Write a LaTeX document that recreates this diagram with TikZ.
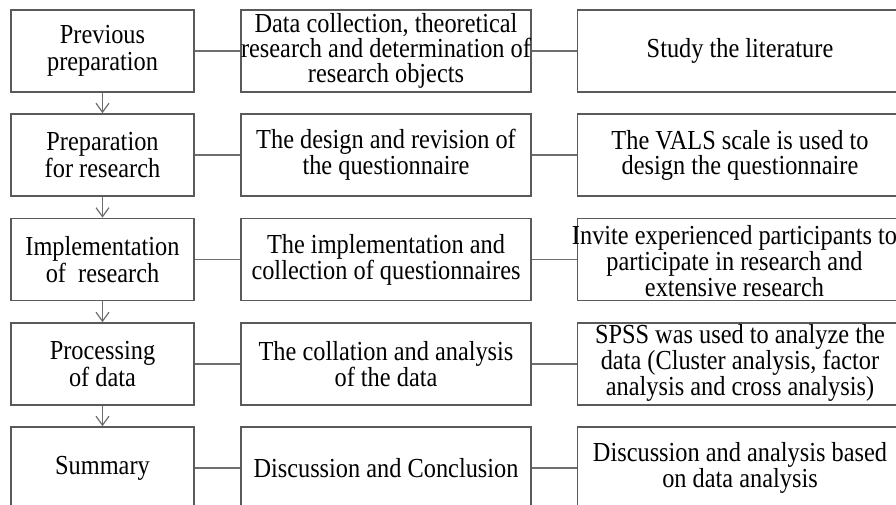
\documentclass[tikz,border=0pt]{standalone}
\usepackage{fontspec}
\setmainfont[FakeStretch=0.885]{Liberation Serif}
\usetikzlibrary{arrows.meta}
\definecolor{boxgray}{HTML}{5A5A5A}
\definecolor{linegray}{HTML}{6E6E6E}
\begin{document}
\begin{tikzpicture}[x=1pt,y=-1pt,
  box/.style={draw=boxgray, line width=1.6pt, inner sep=0pt, align=center, text=black, minimum height=82pt},
  stagebox/.style={box, minimum width=183pt, font=\fontsize{27.5}{27.5}\selectfont},
  taskbox/.style={box, minimum width=290pt, font=\fontsize{27.5}{25}\selectfont},
  detailbox/.style={box, minimum width=325pt, font=\fontsize{27.5}{25}\selectfont},
  tighttext/.style={inner sep=0pt, align=center, text=black, font=\fontsize{27.5}{21.5}\selectfont},
  conn/.style={draw=linegray, line width=1.2pt},
  flowarrow/.style={draw=linegray, line width=1.2pt, -{Straight Barb[length=9pt,width=13pt]}}
]
\useasboundingbox (0,0) rectangle (896,505);
\clip (0,0) rectangle (896,505);

\node[stagebox] (s1) at (102.5,51) {Previous\\preparation};
\node[stagebox] (s2) at (102.5,155) {Preparation\\for research};
\node[stagebox] (s3) at (102.5,259.5) {Implementation\\of\ \ research};
\node[stagebox] (s4) at (102.5,364) {Processing\\of data};
\node[stagebox] (s5) at (102.5,468) {Summary};

\node[taskbox] (t1) at (386,51) {Data collection, theoretical\\research and determination of\\research objects};
\node[taskbox] (t2) at (386,155) {The design and revision of\\the questionnaire};
\node[taskbox] (t3) at (386,259.5) {The implementation and\\collection of questionnaires};
\node[taskbox] (t4) at (386,364) {The collation and analysis\\of the data};
\node[taskbox] (t5) at (386,468) {Discussion and Conclusion};

\node[detailbox] (d1) at (740,51) {Study the literature};
\node[detailbox] (d2) at (740,155) {The VALS scale is used to\\design the questionnaire};
\node[detailbox] (d3) at (740,259.5) {};
\node[tighttext] (d3text) at ([xshift=-5.5pt,yshift=-1.5pt]d3.center) {Invite experienced participants to\\participate in research and\\extensive research};
\node[detailbox] (d4) at (740,364) {};
\node[tighttext] (d4text) at ([yshift=1pt]d4.center) {SPSS was used to analyze the\\data (Cluster analysis, factor\\analysis and cross analysis)};
\node[detailbox] (d5) at (740,468) {Discussion and analysis based\\on data analysis};

\foreach \i in {1,...,5} {
  \draw[conn] (s\i.east) -- (t\i.west);
  \draw[conn] (t\i.east) -- (d\i.west);
}
\foreach \i/\j in {1/2,2/3,3/4,4/5} {
  \draw[flowarrow] (s\i.south) -- (s\j.north);
}
\end{tikzpicture}
\end{document}
